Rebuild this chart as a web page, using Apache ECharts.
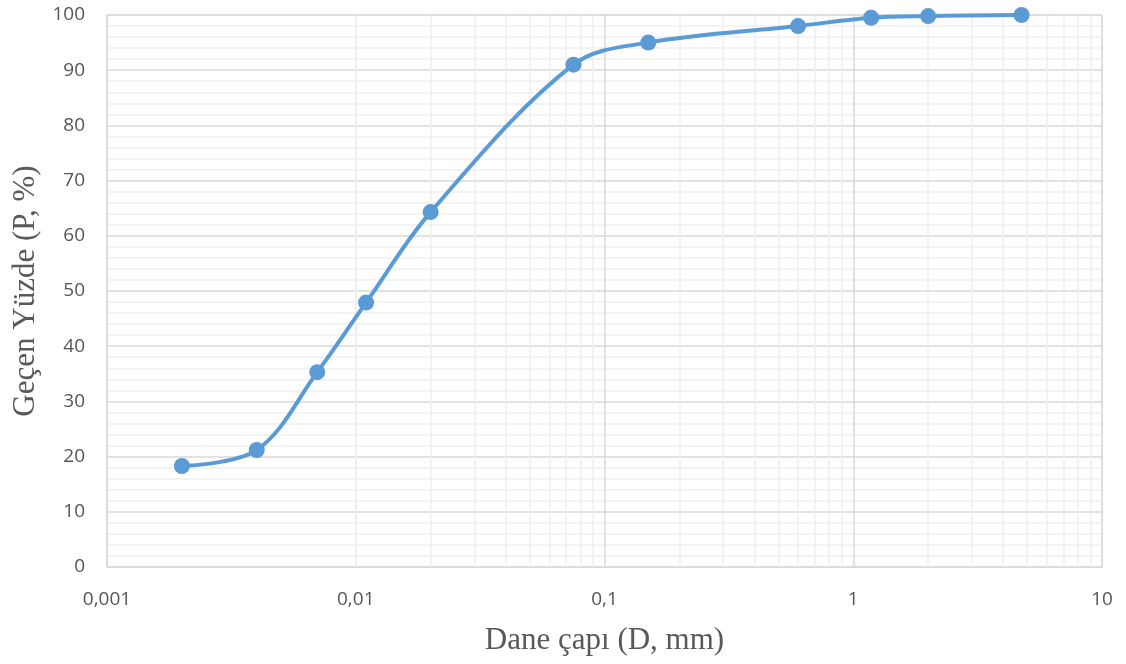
<!DOCTYPE html>
<html><head><meta charset="utf-8">
<script src="https://cdn.jsdelivr.net/npm/echarts@6/dist/echarts.min.js"></script>
<style>html,body{margin:0;padding:0;background:#fff}#c{width:1126px;height:664px}</style>
</head><body><div id="c"></div>
<script>
const diameters = [0.002, 0.004, 0.007, 0.011, 0.02, 0.075, 0.15, 0.6, 1.18, 2.0, 4.75];
const passing = [18.3, 21.2, 35.3, 47.9, 64.3, 91.0, 95.0, 98.0, 99.5, 99.8, 100];
const xTitle = 'Dane çapı (D, mm)';
const yTitle = 'Geçen Yüzde (P, %)';

const minorX = [];
for (let e = -3; e < 1; e++) {
  for (let m = 2; m <= 9; m++) minorX.push({ xAxis: +(m * Math.pow(10, e)).toPrecision(3) });
}

const chart = echarts.init(document.getElementById('c'));
chart.setOption({
  animation: false,
  grid: { left: 107, right: 24, top: 15, bottom: 97, show: true, borderColor: '#d9d9d9', borderWidth: 1,
    containLabel: false, outerBoundsMode: 'none' },
  xAxis: {
    type: 'log', min: 0.001, max: 10, logBase: 10,
    name: xTitle, nameLocation: 'middle', nameGap: 58,
    nameTextStyle: { fontFamily: 'Liberation Serif', fontSize: 31, color: '#595959' },
    axisLine: { show: true, lineStyle: { color: '#d9d9d9' } },
    axisTick: { show: false },
    axisLabel: { margin: 23, fontFamily: 'Open Sans', fontSize: 19, color: '#555555',
      formatter: v => String(+v.toPrecision(3)).replace('.', ',') },
    splitLine: { show: true, lineStyle: { color: '#d9d9d9', width: 1.5 } }
  },
  yAxis: {
    type: 'value', min: 0, max: 100, interval: 10,
    name: yTitle, nameLocation: 'middle', nameGap: 66, nameRotate: 90,
    nameTextStyle: { fontFamily: 'Liberation Serif', fontSize: 31, color: '#595959' },
    axisLine: { show: true, lineStyle: { color: '#d9d9d9' } },
    axisTick: { show: false },
    axisLabel: { margin: 22, fontFamily: 'Open Sans', fontSize: 19, color: '#555555' },
    splitLine: { show: true, lineStyle: { color: '#d9d9d9', width: 1.5 } },
    minorTick: { show: false, splitNumber: 5 },
    minorSplitLine: { show: true, lineStyle: { color: '#efefef', width: 1.5 } }
  },
  series: [
    {
      type: 'line', data: [], z: 1, silent: true,
      markLine: { silent: true, z: 1, symbol: 'none', label: { show: false },
        lineStyle: { color: '#efefef', type: 'solid', width: 1.5 }, data: minorX, animation: false }
    },
    {
      type: 'line', z: 3,
      data: diameters.map((d, i) => [d, passing[i]]),
      smooth: 0.35,
      symbol: 'circle', symbolSize: 16,
      lineStyle: { color: '#5b9bd5', width: 4 },
      itemStyle: { color: '#5b9bd5' }
    }
  ]
});
</script></body></html>
